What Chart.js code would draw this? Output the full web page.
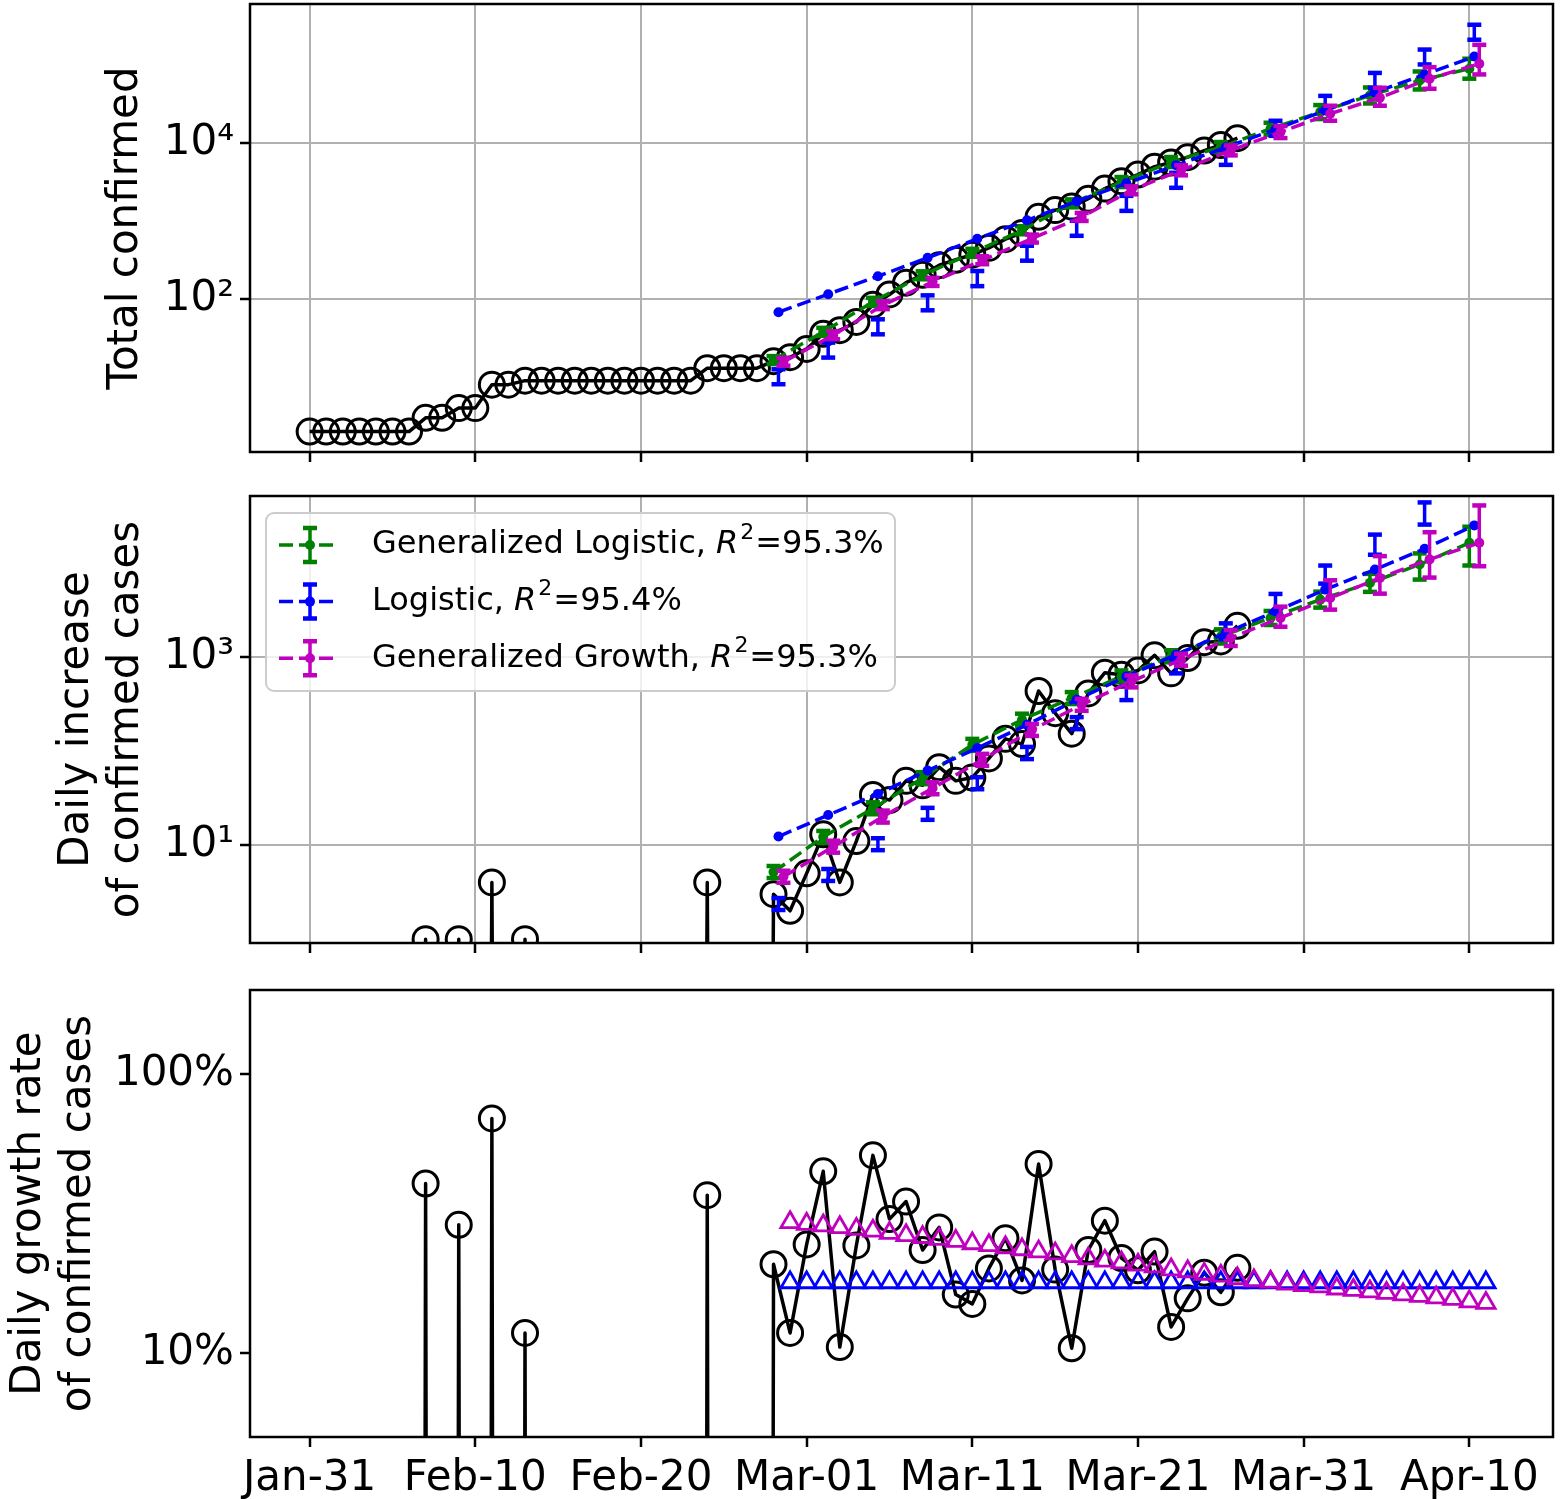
<!DOCTYPE html>
<html lang="en">
<head>
<meta charset="UTF-8">
<title>Confirmed cases and model fits</title>
<script src="https://cdn.jsdelivr.net/npm/chart.js@4.4.1/dist/chart.umd.min.js"></script>
<style>
  body { margin: 0; background: #fff; }
  canvas.panel { position: absolute; left: 0; }
</style>
</head>
<body>
<canvas id="totalChart" class="panel" width="1563" height="480" style="top:0"></canvas>
<canvas id="dailyChart" class="panel" width="1563" height="490" style="top:480px"></canvas>
<canvas id="growthChart" class="panel" width="1563" height="529" style="top:970px"></canvas>

<script>
// x axis: days since Jan-31
const tickDays = [0, 10, 20, 30, 40, 50, 60, 70];
const tickLabels = ['Jan-31', 'Feb-10', 'Feb-20', 'Mar-01', 'Mar-11', 'Mar-21', 'Mar-31', 'Apr-10'];

// observed totals, day 0 .. 56
const totals = [2, 2, 2, 2, 2, 2, 2, 3, 3, 4, 4, 8, 8, 9, 9, 9, 9, 9, 9, 9, 9, 9, 9, 9, 13, 13, 13, 13,
  16, 18, 23, 36, 40, 51, 85, 115, 163, 206, 273, 321, 373, 456, 590, 708, 1140, 1391, 1543, 1950,
  2626, 3269, 3983, 5018, 5683, 6650, 8077, 9529, 11658];

// daily increase, day 1 .. 56
const daily = [0, 0, 0, 0, 0, 0, 1, 0, 1, 0, 4, 0, 1, 0, 0, 0, 0, 0, 0, 0, 0, 0, 0, 4, 0, 0, 0,
  3, 2, 5, 13, 4, 11, 34, 30, 48, 43, 67, 48, 52, 83, 134, 118, 432, 251, 152, 407, 676, 643, 714,
  1035, 665, 967, 1427, 1452, 2129];

// daily growth rate in %, day 1 .. 56
const growth = [0, 0, 0, 0, 0, 0, 40.5, 0, 28.8, 0, 69.3, 0, 11.8, 0, 0, 0, 0, 0, 0, 0, 0, 0, 0, 36.8, 0, 0, 0,
  20.8, 11.8, 24.5, 44.8, 10.5, 24.3, 51.1, 30.2, 34.9, 23.4, 28.2, 16.2, 15.0, 20.1, 25.8, 18.2, 47.6,
  19.9, 10.4, 23.4, 29.8, 21.9, 19.8, 23.1, 12.4, 15.7, 19.4, 16.5, 20.2];

// model evaluation days
const glDays = [28, 31, 34, 37, 40, 43, 46, 49, 52, 55, 58, 61, 64, 67, 70];
const logDays = [28.3, 31.3, 34.3, 37.3, 40.3, 43.3, 46.3, 49.3, 52.3, 55.3, 58.3, 61.3, 64.3, 67.3, 70.3];
const ggDays = [28.6, 31.6, 34.6, 37.6, 40.6, 43.6, 46.6, 49.6, 52.6, 55.6, 58.6, 61.6, 64.6, 67.6, 70.6];

// totals predicted by each model, with error bar bounds
const glTotal = [16.5, 38.1, 92.3, 203, 394, 767, 1700, 3190, 5760, 8970, 15400, 25200, 41200, 64200, 90800];
const glTotalLo = [14.7, 33.9, 82, 180, 350, 682, 1510, 2750, 4970, 7740, 12900, 20500, 32500, 49200, 67600];
const glTotalHi = [18.6, 42.9, 104, 228, 443, 863, 1910, 3700, 6680, 10400, 18400, 31000, 52200, 83700, 122000];

const logTotal = [68.1, 116, 197, 340, 597, 1030, 1800, 3070, 5230, 8890, 15100, 26500, 45100, 76700, 130000];
const logTotalLo = [8.1, 17.8, 35.4, 72, 147, 312, 651, 1360, 2690, 5300, 12500, 26100, 51500, 103000, 214000];
const logTotalHi = [12.6, 27.7, 55.2, 112, 230, 485, 1015, 2120, 4190, 8260, 19500, 40700, 80200, 160000, 333000];

const ggTotal = [15.7, 34.5, 83.8, 167, 316, 600, 1135, 2500, 4510, 8130, 13960, 24000, 38500, 67500, 105000];
const ggTotalLo = [14.0, 30.7, 74.5, 148, 281, 533, 1010, 2220, 3890, 7010, 11700, 19500, 30400, 50200, 76700];
const ggTotalHi = [17.7, 38.8, 94.3, 188, 356, 675, 1280, 2810, 5230, 9420, 16700, 30400, 51700, 95100, 184000];

// daily increase predicted by each model
const glDaily = [5.16, 12.2, 24.5, 51.3, 116, 214, 364, 617, 1010, 1640, 2580, 4040, 6080, 9530, 16200];
const glDailyLo = [4.46, 10.5, 21.2, 44.3, 100, 185, 314, 533, 872, 1380, 2170, 3320, 4880, 6590, 9300];
const glDailyHi = [5.98, 14.1, 28.4, 59.4, 134, 248, 421, 714, 1170, 1950, 3060, 4910, 7580, 12500, 24000];

const logDaily = [12.3, 20.8, 34.9, 61.7, 107, 189, 349, 617, 1050, 1790, 3030, 5160, 8430, 14000, 24800];
const logDailyLo = [2.04, 4.15, 8.81, 18.5, 39.1, 81.7, 170, 346, 665, 1530, 2980, 5970, 12100, 25300, 52900];
const logDailyHi = [2.73, 5.56, 11.8, 24.8, 52.5, 110, 228, 488, 937, 2260, 4640, 9290, 19800, 43500, 95300];

const ggDaily = [4.6, 9.6, 20.0, 40.1, 80.2, 167, 308, 546, 929, 1580, 2580, 4210, 6870, 10800, 16200];
const ggDailyLo = [3.97, 8.29, 17.3, 34.6, 69.3, 144, 266, 472, 802, 1300, 2080, 3160, 4670, 6920, 9140];
const ggDailyHi = [5.33, 11.1, 23.2, 46.4, 92.9, 193, 357, 632, 1076, 1920, 3400, 6480, 11700, 21000, 40400];

// growth rate of the fitted models in %, day 29 .. 71
const growthFitDays = [29, 30, 31, 32, 33, 34, 35, 36, 37, 38, 39, 40, 41, 42, 43, 44, 45, 46, 47, 48, 49, 50,
  51, 52, 53, 54, 55, 56, 57, 58, 59, 60, 61, 62, 63, 64, 65, 66, 67, 68, 69, 70, 71];
const logGrowth = [17.9, 17.9, 17.9, 17.9, 17.9, 17.9, 17.9, 17.9, 17.9, 17.9, 17.9, 17.9, 17.9, 17.9, 17.9,
  17.9, 17.9, 17.9, 17.9, 17.9, 17.9, 17.9, 17.9, 17.9, 17.9, 17.9, 17.9, 17.9, 17.9, 17.9, 17.9, 17.9,
  17.9, 17.9, 17.9, 17.9, 17.9, 17.9, 17.9, 17.9, 17.9, 17.9, 17.9];
const ggGrowth = [29.4, 29.0, 28.6, 28.2, 27.8, 27.4, 26.9, 26.4, 26.0, 25.6, 25.2, 24.7, 24.3, 23.9, 23.5,
  23.1, 22.7, 22.2, 21.8, 21.4, 21.1, 20.7, 20.4, 19.9, 19.6, 19.2, 18.9, 18.5, 18.2, 18.0, 17.7, 17.5,
  17.3, 17.0, 16.8, 16.6, 16.4, 16.2, 16.0, 15.8, 15.6, 15.3, 15.1];

const modelNames = ['Generalized Logistic', 'Logistic', 'Generalized Growth'];
const modelR2 = ['95.3%', '95.4%', '95.3%'];

const GREEN = '#008000';
const BLUE = '#0000ff';
const MAGENTA = '#bf00bf';
const GRID = '#b0b0b0';
const modelColors = [GREEN, BLUE, MAGENTA];

Chart.defaults.font.family = '"DejaVu Sans", sans-serif';
Chart.defaults.color = '#000';

// box around each plot area
const frame = {
  id: 'frame',
  afterDatasetsDraw(chart) {
    const { ctx, chartArea: a } = chart;
    ctx.save();
    ctx.strokeStyle = '#000';
    ctx.lineWidth = 2.5;
    ctx.strokeRect(a.left, a.top, a.right - a.left, a.bottom - a.top);
    ctx.restore();
  }
};

// legend with errorbar handles, drawn inside the daily panel
const fitLegend = {
  id: 'fitLegend',
  afterDatasetsDraw(chart) {
    const { ctx, chartArea: a } = chart;
    const x0 = a.left + 16, y0 = a.top + 17, w = 629, h = 178, r = 8;
    ctx.save();
    ctx.beginPath();
    ctx.roundRect(x0, y0, w, h, r);
    ctx.fillStyle = 'rgba(255,255,255,0.8)';
    ctx.fill();
    ctx.strokeStyle = '#cccccc';
    ctx.lineWidth = 2;
    ctx.stroke();

    modelNames.forEach((name, i) => {
      const cy = y0 + 32 + i * 56.6;
      const color = modelColors[i];
      const ex = x0 + 44;
      ctx.strokeStyle = color;
      ctx.fillStyle = color;
      ctx.lineWidth = 3.5;
      ctx.setLineDash([14, 6]);
      ctx.beginPath();
      ctx.moveTo(x0 + 13, cy);
      ctx.lineTo(x0 + 70, cy);
      ctx.stroke();
      ctx.setLineDash([]);
      ctx.beginPath();
      ctx.moveTo(ex, cy - 17);
      ctx.lineTo(ex, cy + 17);
      ctx.stroke();
      ctx.lineWidth = 4.5;
      ctx.beginPath();
      ctx.moveTo(ex - 7, cy - 17); ctx.lineTo(ex + 7, cy - 17);
      ctx.moveTo(ex - 7, cy + 17); ctx.lineTo(ex + 7, cy + 17);
      ctx.stroke();
      ctx.beginPath();
      ctx.arc(ex, cy, 5, 0, Math.PI * 2);
      ctx.fill();

      let tx = x0 + 106;
      ctx.fillStyle = '#000';
      ctx.textBaseline = 'middle';
      ctx.font = '32px "DejaVu Sans"';
      const head = name + ', ';
      ctx.fillText(head, tx, cy);
      tx += ctx.measureText(head).width;
      ctx.font = 'italic 32px "DejaVu Sans"';
      ctx.fillText('R', tx, cy);
      tx += ctx.measureText('R').width + 2;
      ctx.font = '22px "DejaVu Sans"';
      ctx.fillText('2', tx, cy - 12);
      tx += ctx.measureText('2').width + 1;
      ctx.font = '32px "DejaVu Sans"';
      ctx.fillText('=' + modelR2[i], tx, cy);
    });
    ctx.restore();
  }
};

function xScale(labelled, height) {
  return {
    type: 'linear',
    min: -3.6,
    max: 75.05,
    afterBuildTicks: s => { s.ticks = tickDays.map(v => ({ value: v })); },
    afterFit: s => { s.height = height; s.paddingLeft = 0; s.paddingRight = 0; },
    border: { display: false },
    grid: {
      drawOnChartArea: !labelled, color: GRID, lineWidth: 2,
      tickColor: '#000', tickWidth: 2.5, tickLength: 10
    },
    ticks: {
      autoSkip: false, maxRotation: 0, padding: 7, font: { size: 42 },
      callback: (v, i) => labelled ? tickLabels[i] : ''
    }
  };
}

function yScale(min, max, tickVals, tickText, title, titlePad, gridOn) {
  return {
    type: 'logarithmic',
    min: min,
    max: max,
    afterBuildTicks: s => { s.ticks = tickVals.map(v => ({ value: v })); },
    afterFit: s => { s.width = 250; s.paddingTop = 0; s.paddingBottom = 0; },
    border: { display: false },
    grid: {
      drawOnChartArea: gridOn, color: GRID, lineWidth: 2,
      tickColor: '#000', tickWidth: 2.5, tickLength: 10
    },
    ticks: { padding: 6, font: { size: 42 }, callback: (v, i) => tickText[i] },
    title: {
      display: true, text: title,
      font: { size: 42, lineHeight: 1.17 },
      padding: { top: titlePad, bottom: 0 }
    }
  };
}

// observed series: open circles joined by a solid line; zero values drop off the log axis
function observed(values, firstDay) {
  return {
    data: values.map((v, i) => ({ x: i + firstDay, y: v > 0 ? v : 1e-30 })),
    borderColor: '#000',
    borderWidth: 3.5,
    borderJoinStyle: 'round',
    pointRadius: 12.5,
    pointBorderWidth: 3,
    pointBorderColor: '#000',
    pointBackgroundColor: 'rgba(0,0,0,0)',
    order: 4
  };
}

// one model: dashed line with dots, plus error bars and caps
function fitSets(days, mid, lo, hi, color, order) {
  const bars = [];
  const caps = [];
  days.forEach((d, i) => {
    bars.push({ x: d, y: lo[i] }, { x: d, y: hi[i] }, { x: d, y: null });
    caps.push({ x: d, y: lo[i] }, { x: d, y: hi[i] });
  });
  return [
    {
      data: days.map((d, i) => ({ x: d, y: mid[i] })),
      borderColor: color, borderWidth: 3.5, borderDash: [14, 6],
      pointRadius: 5, pointBackgroundColor: color, pointBorderWidth: 0, order: order
    },
    { data: bars, borderColor: color, borderWidth: 3.5, pointRadius: 0, spanGaps: false, order: order },
    {
      data: caps, showLine: false, pointStyle: 'line', pointRadius: 7,
      pointBorderWidth: 4.5, pointBorderColor: color, order: order
    }
  ];
}

function triangles(values, color) {
  return {
    data: growthFitDays.map((d, i) => ({ x: d, y: values[i] })),
    showLine: false,
    pointStyle: 'triangle',
    pointRadius: 10.6,
    pointBorderWidth: 2.8,
    pointBorderColor: color,
    pointBackgroundColor: 'rgba(0,0,0,0)',
    order: color === MAGENTA ? 1 : 2
  };
}

const baseOptions = {
  responsive: false,
  animation: false,
  devicePixelRatio: 1,
  events: [],
  plugins: { legend: { display: false }, tooltip: { enabled: false } },
  elements: { line: { tension: 0 } }
};

new Chart(document.getElementById('totalChart'), {
  type: 'line',
  data: {
    datasets: [
      observed(totals, 0),
      ...fitSets(glDays, glTotal, glTotalLo, glTotalHi, GREEN, 3),
      ...fitSets(logDays, logTotal, logTotalLo, logTotalHi, BLUE, 2),
      ...fitSets(ggDays, ggTotal, ggTotalLo, ggTotalHi, MAGENTA, 1)
    ]
  },
  options: {
    ...baseOptions,
    layout: { autoPadding: false, padding: { top: 4, right: 10, left: 0, bottom: 0 } },
    scales: {
      x: xScale(false, 28),
      y: yScale(1.093, 615000, [100, 10000], ['10²', '10⁴'], 'Total confirmed', 102, true)
    }
  },
  plugins: [frame]
});

new Chart(document.getElementById('dailyChart'), {
  type: 'line',
  data: {
    datasets: [
      observed(daily, 1),
      ...fitSets(glDays, glDaily, glDailyLo, glDailyHi, GREEN, 3),
      ...fitSets(logDays, logDaily, logDailyLo, logDailyHi, BLUE, 2),
      ...fitSets(ggDays, ggDaily, ggDailyLo, ggDailyHi, MAGENTA, 1)
    ]
  },
  options: {
    ...baseOptions,
    layout: { autoPadding: false, padding: { top: 16, right: 10, left: 0, bottom: 0 } },
    scales: {
      x: xScale(false, 27),
      y: yScale(0.91, 50900, [10, 1000], ['10¹', '10³'],
        ['Daily increase', 'of confirmed cases'], 53, true)
    }
  },
  plugins: [frame, fitLegend]
});

new Chart(document.getElementById('growthChart'), {
  type: 'line',
  data: {
    datasets: [
      observed(growth, 1),
      triangles(logGrowth, BLUE),
      triangles(ggGrowth, MAGENTA)
    ]
  },
  options: {
    ...baseOptions,
    layout: { autoPadding: false, padding: { top: 20, right: 10, left: 0, bottom: 0 } },
    scales: {
      x: xScale(true, 62),
      y: yScale(5, 200, [10, 100], ['10%', '100%'],
        ['Daily growth rate', 'of confirmed cases'], 5, false)
    }
  },
  plugins: [frame]
});
</script>
</body>
</html>
